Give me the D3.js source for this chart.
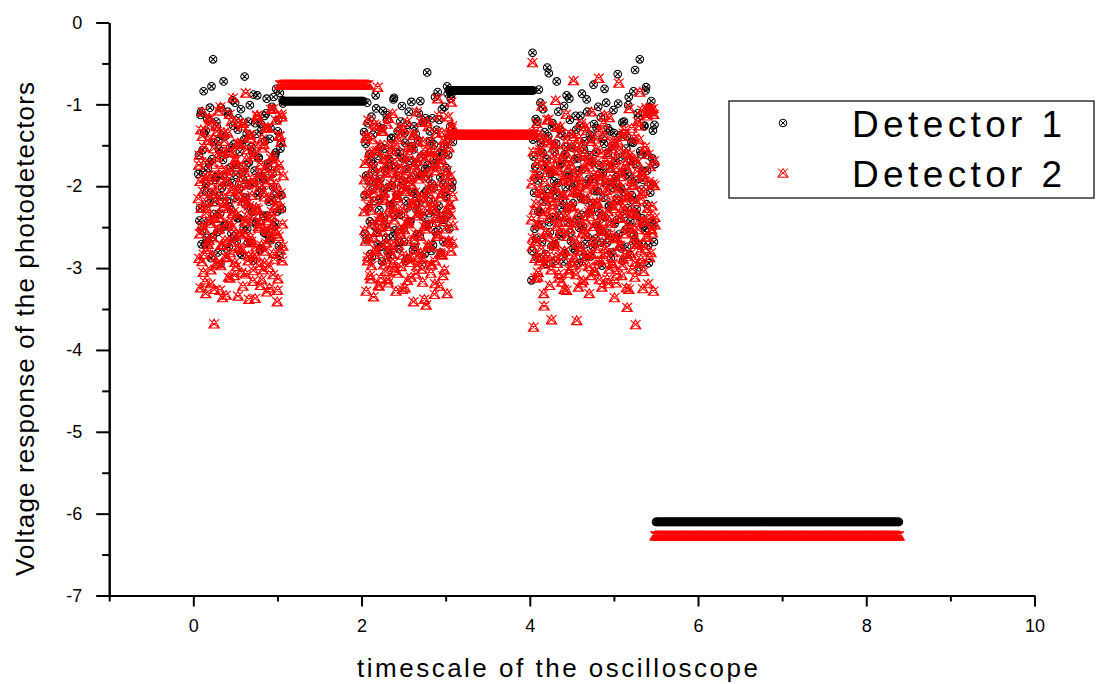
<!DOCTYPE html>
<html>
<head>
<meta charset="utf-8">
<script src="https://cdn.jsdelivr.net/npm/d3@7"></script>
<style>
  body { margin: 0; background: #fff; }
  text { font-family: "Liberation Sans", Arial, sans-serif; fill: #000; }
</style>
</head>
<body>
<svg id="chart" width="1096" height="684"></svg>
<script>
// ---- data ----
const seriesNames = ["Detector 1", "Detector 2"];
const sampleStep = 0.0125;            // oscilloscope time step

// noisy bursts: start time, then one value per sample
const burstStarts = [0.06, 2.03, 4.02];

// Detector 1, main samples and the interleaved half-step samples
const det1Burst1 = [-1.85,-2.42,-1.13,-2.71,-1.56,-0.84,-2.05,-1.32,-2.63,-1.78,
  -2.21,-1.04,-2.88,-1.67,-0.45,-2.34,-1.92,-1.21,-2.56,-1.45,
  -2.12,-2.95,-1.38,-1.87,-0.72,-2.47,-1.61,-2.18,-1.09,-2.74,
  -1.53,-2.29,-1.96,-1.26,-2.61,-0.98,-1.74,-2.39,-1.17,-2.03,
  -2.82,-1.49,-1.83,-2.52,-0.66,-2.14,-1.36,-2.69,-1.71,-1.01,
  -2.26,-1.58,-2.91,-1.95,-1.23,-2.44,-0.89,-1.66,-2.08,-2.77,
  -1.31,-1.89,-2.36,-1.14,-2.58,-0.93,-1.77,-2.19,-1.42,-2.66,
  -1.03,-2.01,-2.49,-1.62,-0.81,-2.31,-1.19,-2.85,-1.54,-2.11,-0.95];
const det1Burst1b = [-1.62,-2.27,-1.09,-2.54,-1.83,-1.35,-2.71,-1.97,-1.18,-2.43,
  -1.71,-2.08,-0.78,-2.62,-1.46,-2.19,-1.89,-1.27,-2.81,-1.55,
  -2.34,-1.04,-2.02,-1.68,-2.49,-1.39,-2.76,-1.94,-1.13,-2.25,
  -1.77,-2.58,-0.95,-1.49,-2.14,-1.86,-2.67,-1.31,-2.39,-1.58,
  -1.06,-2.84,-1.92,-1.43,-2.22,-1.74,-2.52,-1.21,-1.99,-2.69,
  -1.52,-2.31,-0.88,-1.81,-2.46,-1.36,-2.11,-1.65,-2.78,-1.24,
  -2.04,-1.91,-2.57,-1.45,-1.11,-2.36,-1.72,-2.64,-1.29,-2.17,
  -1.85,-0.91,-2.44,-1.59,-2.09,-1.33,-2.73,-0.86,-1.47,-2.28,-0.99];
const det1Burst2 = [-1.34,-2.58,-1.87,-0.98,-2.27,-1.61,-2.83,-1.15,-2.04,-1.73,
  -2.49,-0.89,-1.96,-2.71,-1.28,-2.15,-1.52,-2.92,-1.08,-2.38,
  -1.81,-2.63,-1.19,-2.01,-1.67,-2.86,-1.41,-2.22,-0.94,-2.54,
  -1.76,-2.11,-1.33,-2.77,-1.58,-2.35,-1.02,-1.93,-2.68,-1.47,
  -2.18,-1.25,-2.89,-1.69,-2.43,-0.97,-2.07,-1.55,-2.74,-1.36,
  -2.29,-1.84,-1.11,-2.61,-1.64,-2.96,-1.22,-2.09,-1.79,-2.47,
  -0.61,-1.91,-2.33,-1.45,-2.79,-1.17,-2.02,-1.72,-2.56,-1.31,
  -0.85,-2.24,-1.59,-2.81,-1.06,-1.98,-2.41,-1.49,-2.13,-0.78,
  -1.62,-2.52,-1.27,-0.88,-1.95];
const det1Burst2b = [-2.11,-1.48,-2.66,-1.23,-1.94,-2.43,-1.69,-2.87,-1.37,-2.18,
  -1.82,-1.05,-2.57,-1.63,-2.29,-1.91,-2.74,-1.29,-2.06,-1.54,
  -2.48,-1.13,-2.81,-1.76,-2.23,-1.42,-1.99,-2.61,-0.92,-2.35,
  -1.58,-2.14,-1.87,-2.69,-1.21,-2.02,-1.66,-2.52,-1.35,-2.91,
  -1.79,-2.26,-1.09,-2.44,-1.92,-1.51,-2.78,-1.27,-2.09,-1.72,
  -2.59,-1.44,-2.21,-0.96,-1.86,-2.37,-1.61,-2.83,-1.17,-2.05,
  -1.74,-2.47,-1.33,-2.16,-1.97,-2.72,-1.49,-0.91,-2.31,-1.65,
  -2.54,-1.19,-1.89,-2.41,-1.57,-2.68,-1.03,-2.12,-1.78,-0.87,
  -2.34,-1.39,-0.93,-2.02,-1.46];
const det1Burst3 = [-3.15,-0.37,-1.64,-2.52,-1.18,-2.87,-1.93,-0.82,-2.31,-1.47,
  -2.68,-1.06,-2.12,-1.77,-2.95,-0.55,-1.39,-2.44,-1.85,-2.73,
  -1.23,-2.06,-1.58,-2.91,-0.72,-1.96,-2.36,-1.31,-2.61,-1.71,
  -2.18,-1.02,-2.82,-1.52,-2.27,-1.89,-0.93,-2.57,-1.36,-2.02,
  -2.76,-1.67,-1.14,-2.41,-1.81,-2.94,-1.26,-2.14,-0.87,-2.49,
  -1.55,-2.71,-1.97,-1.09,-2.33,-1.62,-2.86,-1.42,-2.21,-0.76,
  -1.91,-2.64,-1.29,-2.06,-1.74,-2.53,-1.16,-2.97,-1.84,-1.48,
  -2.38,-0.98,-2.69,-1.59,-2.24,-1.33,-2.81,-1.95,-1.07,-2.46,
  -1.69,-2.15,-0.63,-2.59,-1.38,-2.02,-1.83,-2.91,-1.21,-2.34,
  -1.54,-2.74,-1.01,-1.88,-2.43,-1.46,-2.17,-0.84,-2.66,-1.73,
  -2.28,-1.11,-2.99,-0.45,-1.61,-2.39,-1.92,-1.27,-2.54,-0.79,
  -1.81,-2.72,-1.04,-2.08,-0.96,-1.66,-2.47,-1.25];
const det1Burst3b = [-2.79,-1.43,-2.08,-1.76,-2.64,-1.21,-2.31,-1.87,-0.98,-2.47,
  -1.59,-2.19,-1.34,-2.83,-1.67,-2.03,-0.62,-2.56,-1.82,-1.27,
  -2.38,-1.94,-2.71,-1.48,-2.12,-1.09,-2.59,-1.73,-2.26,-1.38,
  -2.92,-1.61,-2.01,-0.89,-2.44,-1.86,-1.19,-2.67,-1.53,-2.21,
  -1.97,-2.78,-1.31,-2.09,-1.66,-2.51,-1.14,-2.35,-1.79,-2.86,
  -1.45,-2.17,-0.94,-2.62,-1.91,-1.37,-2.29,-1.71,-2.74,-1.24,
  -2.06,-1.58,-2.48,-1.03,-2.33,-1.84,-2.69,-1.42,-2.14,-0.81,
  -1.96,-2.57,-1.29,-2.24,-1.77,-2.88,-1.51,-2.02,-1.35,-2.63,
  -1.89,-2.41,-0.99,-2.18,-1.64,-2.76,-1.22,-2.07,-1.83,-2.53,
  -1.39,-2.27,-0.91,-2.84,-1.69,-2.11,-1.47,-2.59,-0.58,-1.93,
  -2.36,-1.16,-2.72,-1.57,-2.04,-1.81,-2.49,-1.26,-0.83,-2.22,
  -1.62,-2.94,-1.08,-1.98,-2.43,-1.32,-2.68,-1.73];

// Detector 2, main samples plus two interleaved third-step sets
const det2Burst1 = [-2.15,-1.62,-3.24,-2.48,-1.09,-2.83,-1.91,-3.31,-2.27,-1.44,
  -2.66,-1.18,-3.02,-2.09,-1.73,-3.68,-2.39,-1.27,-2.94,-1.86,
  -2.52,-1.03,-2.71,-3.36,-1.58,-2.21,-1.95,-2.87,-1.35,-2.44,
  -3.12,-1.81,-2.33,-0.92,-2.61,-1.67,-2.98,-2.04,-1.22,-2.76,
  -1.49,-3.05,-2.18,-1.77,-2.57,-0.86,-2.36,-1.98,-3.38,-2.69,
  -1.41,-2.11,-2.85,-1.64,-3.37,-2.26,-1.13,-2.49,-1.89,-3.21,
  -2.72,-1.53,-2.07,-2.93,-1.29,-3.29,-2.42,-1.84,-2.64,-1.06,
  -2.31,-3.08,-1.71,-2.55,-1.97,-3.41,-2.19,-1.38,-2.78,-1.12,-2.46];
const det2Burst1b = [-1.74,-2.58,-1.31,-2.92,-2.06,-1.52,-3.17,-2.33,-1.88,-2.71,
  -1.16,-2.45,-1.97,-2.84,-1.42,-3.26,-2.19,-1.65,-2.53,-1.08,
  -2.38,-2.97,-1.79,-2.12,-1.34,-2.66,-3.33,-1.93,-2.27,-1.57,
  -2.81,-1.21,-2.49,-2.03,-3.09,-1.69,-2.35,-1.47,-2.74,-1.99,
  -2.59,-1.26,-3.22,-2.14,-1.83,-2.43,-1.55,-2.91,-2.24,-1.37,
  -2.67,-1.91,-3.03,-1.61,-2.29,-2.86,-1.18,-2.51,-2.01,-1.73,
  -3.14,-2.37,-1.49,-2.79,-1.95,-2.55,-1.28,-2.99,-2.16,-1.66,
  -2.47,-1.05,-2.89,-2.23,-1.81,-3.27,-2.61,-1.39,-2.08,-1.15,-2.73];
const det2Burst1c = [-2.88,-1.94,-2.27,-1.39,-3.05,-2.52,-1.71,-2.18,-2.77,-1.25,
  -2.41,-3.19,-1.86,-2.63,-1.54,-2.09,-2.95,-1.33,-2.34,-1.98,
  -3.27,-1.61,-2.72,-2.24,-1.45,-2.86,-1.81,-2.47,-3.11,-1.12,
  -2.06,-2.68,-1.59,-2.31,-2.93,-1.76,-2.15,-3.34,-1.48,-2.57,
  -1.89,-2.78,-1.23,-2.43,-3.07,-1.67,-2.21,-2.85,-1.37,-2.62,
  -1.96,-3.16,-2.39,-1.51,-2.74,-1.14,-2.28,-2.97,-1.84,-2.46,
  -1.42,-3.02,-2.13,-1.78,-2.69,-1.29,-2.54,-3.24,-1.92,-2.36,
  -1.63,-2.82,-2.05,-1.19,-2.58,-3.13,-1.74,-2.26,-1.46,-2.91,-1.87];
const det2Burst2 = [-2.31,-1.72,-3.28,-2.05,-1.19,-2.64,-1.88,-2.97,-1.43,-3.35,
  -2.18,-1.57,-2.79,-0.79,-2.42,-1.96,-3.12,-1.31,-2.56,-2.08,
  -1.67,-2.89,-1.24,-3.18,-2.37,-1.83,-2.71,-1.11,-2.26,-2.99,
  -1.49,-2.14,-3.06,-1.78,-2.52,-1.36,-2.84,-2.01,-1.63,-3.24,
  -2.45,-1.21,-2.67,-1.94,-2.93,-1.52,-2.21,-3.41,-1.74,-2.58,
  -1.09,-2.36,-2.87,-1.86,-2.12,-3.01,-1.45,-2.49,-1.68,-3.45,
  -2.29,-1.27,-2.74,-1.99,-2.95,-1.58,-2.19,-3.32,-1.81,-2.61,
  -0.93,-2.39,-1.71,-2.83,-1.34,-3.09,-2.04,-1.61,-2.52,-3.31,
  -1.15,-2.23,-1.87,-0.97,-2.69];
const det2Burst2b = [-1.92,-2.67,-1.38,-2.91,-2.24,-1.59,-3.13,-2.46,-1.77,-2.08,
  -2.83,-1.26,-2.55,-1.95,-3.22,-1.49,-2.37,-2.72,-1.66,-2.15,
  -3.04,-1.84,-2.49,-1.17,-2.78,-2.01,-1.55,-2.94,-2.31,-1.72,
  -3.28,-2.11,-1.43,-2.64,-1.89,-2.98,-2.27,-1.31,-2.53,-2.06,
  -1.81,-3.15,-2.42,-1.62,-2.86,-1.98,-2.19,-1.36,-2.76,-3.07,
  -1.69,-2.33,-1.91,-2.61,-1.22,-2.89,-2.14,-3.38,-1.57,-2.47,
  -1.83,-2.71,-2.03,-1.46,-2.96,-2.25,-1.64,-3.19,-2.39,-1.76,
  -2.58,-1.14,-2.81,-2.09,-1.52,-2.43,-3.02,-1.87,-2.28,-1.41,
  -2.66,-1.97,-2.35,-1.29,-2.12];
const det2Burst2c = [-2.54,-1.41,-2.12,-2.86,-1.68,-3.09,-2.29,-1.93,-2.62,-1.24,
  -2.77,-2.02,-1.56,-3.21,-2.38,-1.82,-2.49,-1.33,-2.96,-2.17,
  -1.74,-2.69,-3.14,-1.49,-2.26,-1.97,-2.83,-1.61,-2.41,-3.03,
  -1.86,-2.14,-2.72,-1.28,-2.57,-1.95,-3.26,-2.33,-1.71,-2.04,
  -2.88,-1.52,-2.46,-1.89,-3.11,-2.23,-1.38,-2.65,-2.07,-1.79,
  -2.97,-1.46,-2.31,-2.81,-1.63,-3.17,-2.19,-1.87,-2.52,-1.21,
  -2.74,-2.09,-1.58,-3.06,-2.44,-1.76,-2.27,-2.91,-1.35,-2.61,
  -1.99,-3.22,-2.13,-1.67,-2.84,-1.44,-2.36,-2.01,-1.81,-2.68,
  -1.53,-2.22,-2.79,-1.26,-2.48];
const det2Burst3 = [-2.41,-0.49,-3.72,-1.86,-2.67,-1.23,-3.11,-2.05,-1.58,-2.88,
  -1.02,-2.34,-3.46,-1.74,-2.56,-1.19,-2.92,-2.13,-1.47,-3.63,
  -2.28,-1.81,-2.73,-0.95,-2.49,-1.66,-3.07,-2.19,-1.35,-2.84,
  -1.93,-3.26,-2.38,-1.12,-2.61,-1.78,-3.02,-2.24,-1.51,-2.97,
  -0.71,-2.45,-1.89,-3.64,-2.09,-1.41,-2.79,-1.97,-3.18,-1.63,
  -2.53,-1.27,-2.86,-2.15,-1.73,-3.31,-2.37,-1.09,-2.68,-1.85,
  -3.04,-2.22,-1.55,-2.91,-0.68,-2.47,-1.92,-3.23,-2.01,-1.38,
  -2.76,-1.69,-3.13,-2.31,-1.16,-2.58,-1.98,-2.94,-1.44,-3.36,
  -2.17,-1.77,-2.64,-0.74,-2.39,-1.88,-3.09,-2.26,-1.31,-2.83,
  -1.59,-3.48,-2.12,-1.05,-2.51,-1.94,-3.01,-2.33,-1.67,-3.69,
  -2.71,-1.21,-2.44,-0.85,-2.89,-1.83,-3.25,-2.06,-1.52,-2.62,
  -1.14,-3.19,-2.35,-1.76,-1.06,-2.57,-3.28,-1.99];
const det2Burst3b = [-1.97,-2.63,-1.34,-2.88,-2.21,-1.72,-3.05,-2.46,-1.55,-2.77,
  -2.09,-1.41,-2.95,-2.31,-1.83,-2.58,-1.18,-3.21,-2.14,-1.66,
  -2.71,-2.03,-1.49,-2.86,-2.37,-1.79,-3.12,-1.27,-2.52,-2.11,
  -1.91,-2.79,-1.58,-3.27,-2.26,-1.69,-2.44,-1.36,-2.92,-2.07,
  -1.84,-2.66,-3.08,-1.52,-2.33,-1.99,-2.74,-1.23,-2.57,-3.15,
  -1.76,-2.41,-2.02,-1.63,-2.98,-2.28,-1.45,-2.83,-1.94,-2.49,
  -3.03,-1.71,-2.19,-2.67,-1.31,-2.91,-2.36,-1.87,-2.54,-1.13,
  -2.81,-2.05,-1.61,-3.19,-2.43,-1.78,-2.24,-2.96,-1.48,-2.62,
  -1.92,-3.07,-2.17,-1.56,-2.73,-2.01,-1.39,-2.89,-2.29,-1.74,
  -3.24,-2.48,-1.65,-2.13,-2.82,-1.29,-2.56,-1.98,-3.11,-2.34,
  -1.82,-2.69,-1.43,-2.94,-2.16,-1.07,-2.42,-1.89,-2.76,-1.04,
  -2.27,-1.61,-2.87,-1.09,-2.53,-1.97,-1.12,-2.38];
const det2Burst3c = [-2.74,-1.58,-2.29,-3.12,-1.86,-2.47,-1.37,-2.91,-2.08,-1.69,
  -2.62,-3.31,-1.95,-2.18,-1.44,-2.85,-2.39,-1.77,-3.02,-2.23,
  -1.53,-2.68,-2.01,-1.28,-2.94,-2.44,-1.81,-2.57,-3.17,-1.65,
  -2.11,-2.79,-1.47,-2.36,-1.93,-3.06,-2.52,-1.74,-2.25,-1.39,
  -2.87,-2.06,-1.62,-2.71,-3.23,-1.88,-2.42,-1.51,-2.96,-2.15,
  -1.79,-2.59,-1.32,-2.83,-2.31,-1.97,-3.09,-1.68,-2.49,-2.04,
  -1.42,-2.76,-2.21,-1.86,-3.14,-2.55,-1.59,-2.34,-1.24,-2.89,
  -2.12,-1.73,-2.64,-3.01,-1.91,-2.45,-1.54,-2.81,-2.27,-1.67,
  -3.18,-2.03,-1.46,-2.72,-2.38,-1.83,-2.97,-1.35,-2.58,-2.14,
  -1.78,-2.86,-3.26,-1.61,-2.32,-1.99,-2.66,-1.41,-2.93,-2.19,
  -1.71,-2.53,-1.26,-2.78,-2.09,-1.87,-3.04,-1.57,-2.43,-1.11,
  -2.62,-1.94,-1.08,-2.81,-2.24,-1.05,-1.69,-2.47];

// steady levels: [from time, to time, voltage]
const det1Holds = [[1.07, 2.03, -0.96], [3.04, 4.04, -0.83], [5.50, 8.39, -6.10]];
const det2Holds = [[1.03, 2.08, -0.76], [3.05, 4.05, -1.37], [5.49, 8.40, -6.27]];

const xMajor = [0, 2, 4, 6, 8, 10];
const xMinor = [-1, 1, 3, 5, 7, 9];
const yMajor = [0, -1, -2, -3, -4, -5, -6, -7];
const yMinor = [-0.5, -1.5, -2.5, -3.5, -4.5, -5.5, -6.5];

// ---- build point lists ----
// sets: [burst index, offset as a fraction of the step, values]
function toPoints(sets, holds) {
  const pts = [];
  sets.forEach(([k, frac, vals]) => {
    vals.forEach((v, i) => pts.push({ t: burstStarts[k] + (i + frac) * sampleStep, v }));
  });
  holds.forEach(([t0, t1, v]) => {
    d3.range(t0, t1 + 1e-9, sampleStep).forEach(t => pts.push({ t, v }));
  });
  return pts;
}
const det1 = toPoints([
  [0, 0, det1Burst1], [0, 0.5, det1Burst1b],
  [1, 0, det1Burst2], [1, 0.5, det1Burst2b],
  [2, 0, det1Burst3], [2, 0.5, det1Burst3b]
], det1Holds);
const det2 = toPoints([
  [0, 0, det2Burst1], [0, 0.33, det2Burst1b], [0, 0.67, det2Burst1c],
  [1, 0, det2Burst2], [1, 0.33, det2Burst2b], [1, 0.67, det2Burst2c],
  [2, 0, det2Burst3], [2, 0.33, det2Burst3b], [2, 0.67, det2Burst3c]
], det2Holds);

// ---- drawing ----
const svg = d3.select("#chart");
svg.append("rect").attr("width", 1096).attr("height", 684).attr("fill", "#fff");

const x = d3.scaleLinear().domain([-1, 10]).range([109.2, 1034.5]);
const y = d3.scaleLinear().domain([-7, 0]).range([595.5, 22.5]);

const circleX = "M3.8,0A3.8,3.8 0 1,1 -3.8,0A3.8,3.8 0 1,1 3.8,0ZM-2.6,-2.6L2.6,2.6M2.6,-2.6L-2.6,2.6";
const triX = "M0,-4.6L5.2,4.2L-5.2,4.2ZM-5,-4.4L5,4.4M5,-4.4L-5,4.4";

function drawSeries(data, shape, color) {
  svg.append("g")
    .selectAll("path")
    .data(data)
    .join("path")
    .attr("d", shape)
    .attr("transform", d => `translate(${x(d.t)},${y(d.v)})`)
    .attr("fill", "none")
    .attr("stroke", color)
    .attr("stroke-width", 1.1);
}
drawSeries(det1, circleX, "#000");
drawSeries(det2, triX, "#ff0000");

// axes
function styleAxis(g) {
  g.selectAll(".domain").attr("stroke", "#000").attr("stroke-width", 2);
  g.selectAll(".tick line").attr("stroke", "#000").attr("stroke-width", 2);
  g.selectAll("text").attr("font-size", 18).attr("fill", "#000")
    .attr("font-family", "Liberation Sans, Arial, sans-serif");
}

const yAxisG = svg.append("g").attr("transform", `translate(${x(-1)},0)`);
yAxisG.call(d3.axisLeft(y).tickValues(yMajor).tickSize(13).tickPadding(14)
  .tickSizeOuter(0).tickFormat(d => String(d)));
styleAxis(yAxisG);
const yMinorG = svg.append("g").attr("transform", `translate(${x(-1)},0)`);
yMinorG.call(d3.axisLeft(y).tickValues(yMinor).tickSize(7).tickSizeOuter(0).tickFormat(""));
styleAxis(yMinorG);

const xAxisG = svg.append("g").attr("transform", `translate(0,${y(-7)})`);
xAxisG.call(d3.axisBottom(x).tickValues(xMajor).tickSize(11).tickPadding(13)
  .tickSizeOuter(0).tickFormat(d => String(d)));
styleAxis(xAxisG);
const xMinorG = svg.append("g").attr("transform", `translate(0,${y(-7)})`);
xMinorG.call(d3.axisBottom(x).tickValues(xMinor).tickSize(6).tickSizeOuter(0).tickFormat(""));
styleAxis(xMinorG);

// titles
svg.append("text")
  .attr("x", 357).attr("y", 677)
  .attr("font-size", 26)
  .attr("textLength", 401).attr("lengthAdjust", "spacing")
  .text("timescale of the oscilloscope");

svg.append("text")
  .attr("transform", "translate(34,576) rotate(-90)")
  .attr("font-size", 26)
  .attr("textLength", 494).attr("lengthAdjust", "spacing")
  .text("Voltage response of the photodetectors");

// legend
const legend = svg.append("g");
legend.append("rect")
  .attr("x", 729).attr("y", 101).attr("width", 365).attr("height", 97)
  .attr("fill", "#fff").attr("stroke", "#333").attr("stroke-width", 1.5);
const legendShapes = [circleX, triX];
const legendColors = ["#000", "#ff0000"];
seriesNames.forEach((name, i) => {
  legend.append("path")
    .attr("d", legendShapes[i])
    .attr("transform", `translate(783,${123 + i * 50})`)
    .attr("fill", "none").attr("stroke", legendColors[i]).attr("stroke-width", 1);
  legend.append("text")
    .attr("x", 852).attr("y", 137 + i * 50)
    .attr("font-size", 37)
    .attr("textLength", 210).attr("lengthAdjust", "spacing")
    .text(name);
});
</script>
</body>
</html>
